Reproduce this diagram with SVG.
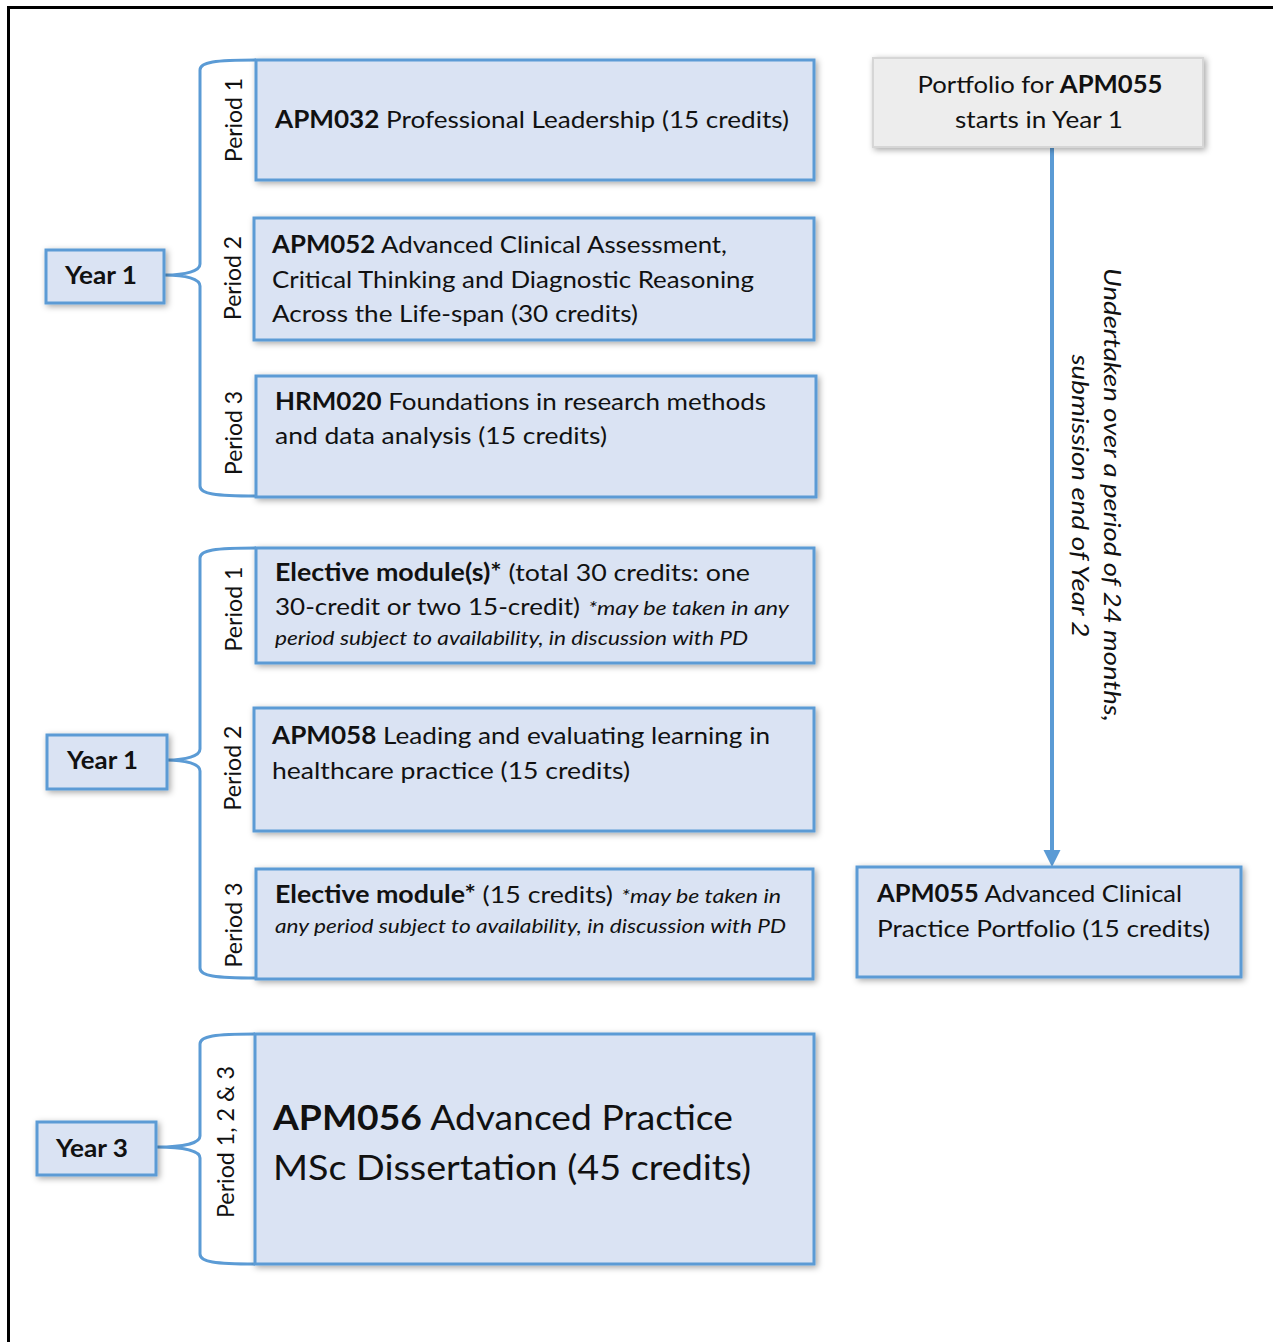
<svg xmlns="http://www.w3.org/2000/svg" width="1273" height="1342" viewBox="0 0 1273 1342">
<defs>
<style>
.box{fill:#dae3f3;stroke:#5b9bd5;stroke-width:3;filter:url(#sh)}
.gbox{fill:#ededed;stroke:#d6d6d6;stroke-width:2;filter:url(#sh)}
.brace{fill:none;stroke:#5b9bd5;stroke-width:3}
text{font-family:Lato,"Open Sans","Liberation Sans",sans-serif;fill:#111}
.t{font-size:24px}
.b{font-weight:bold}
.i{font-style:italic;font-size:20px}
.yr{font-size:25px;font-weight:bold}
.per{font-size:23px}
.big{font-size:35px}
.vt{font-size:23.5px;font-style:italic}
</style>
<filter id="sh" x="-10%" y="-20%" width="120%" height="140%">
<feDropShadow dx="2" dy="2" stdDeviation="3" flood-color="#000" flood-opacity="0.35"/>
</filter>
</defs>
<rect x="0" y="0" width="1273" height="1342" fill="#fff"/>
<path d="M8.5,1342 V7.5 H1273" fill="none" stroke="#000" stroke-width="3"/>

<g id="connectors">
<path class="brace" d="M256,60 C215,60 200,62 200,70 V264 C200,271 186,275 165,275 C186,275 200,279 200,286 V486 C200,494 215,496 256,496"/>
<path class="brace" d="M256,548 C215,548 200,550 200,558 V749 C200,756 186,760 167,760 C186,760 200,764 200,771 V968 C200,976 215,978 256,978"/>
<path class="brace" d="M255,1034 C215,1034 200,1036 200,1044 V1136 C200,1143 184,1147 157,1147 C184,1147 200,1151 200,1158 V1254 C200,1262 215,1264 255,1264"/>
<line x1="1052" y1="148" x2="1052" y2="852" stroke="#5b9bd5" stroke-width="4"/>
<polygon points="1043.5,850 1060.5,850 1052,867" fill="#5b9bd5"/>
</g>

<g id="year1a">
<rect class="box" x="46" y="250" width="118" height="53"/>
<text class="yr" x="65" y="284" textLength="72" lengthAdjust="spacingAndGlyphs">Year 1</text>
</g>
<g id="year1b">
<rect class="box" x="47" y="735" width="120" height="54"/>
<text class="yr" x="67" y="769" textLength="71" lengthAdjust="spacingAndGlyphs">Year 1</text>
</g>
<g id="year3">
<rect class="box" x="37" y="1122" width="119" height="53"/>
<text class="yr" x="56" y="1157" textLength="72" lengthAdjust="spacingAndGlyphs">Year 3</text>
</g>

<g id="periods">
<text class="per" transform="translate(242,120) rotate(-90)" text-anchor="middle" textLength="84" lengthAdjust="spacingAndGlyphs">Period 1</text>
<text class="per" transform="translate(241,278) rotate(-90)" text-anchor="middle" textLength="84" lengthAdjust="spacingAndGlyphs">Period 2</text>
<text class="per" transform="translate(242,433) rotate(-90)" text-anchor="middle" textLength="84" lengthAdjust="spacingAndGlyphs">Period 3</text>
<text class="per" transform="translate(242,609) rotate(-90)" text-anchor="middle" textLength="85" lengthAdjust="spacingAndGlyphs">Period 1</text>
<text class="per" transform="translate(241,768) rotate(-90)" text-anchor="middle" textLength="85" lengthAdjust="spacingAndGlyphs">Period 2</text>
<text class="per" transform="translate(242,925) rotate(-90)" text-anchor="middle" textLength="85" lengthAdjust="spacingAndGlyphs">Period 3</text>
<text class="per" transform="translate(234,1142) rotate(-90)" text-anchor="middle" textLength="152" lengthAdjust="spacingAndGlyphs">Period 1, 2 &amp; 3</text>
</g>

<g id="apm032">
<rect class="box" x="256" y="60" width="558" height="120"/>
<text class="t" x="275" y="128" textLength="514" lengthAdjust="spacingAndGlyphs"><tspan class="b">APM032</tspan> Professional Leadership (15 credits)</text>
</g>
<g id="apm052">
<rect class="box" x="254" y="218" width="560" height="122"/>
<text class="t" x="272" y="253" textLength="455" lengthAdjust="spacingAndGlyphs"><tspan class="b">APM052</tspan> Advanced Clinical Assessment,</text>
<text class="t" x="272" y="288" textLength="482" lengthAdjust="spacingAndGlyphs">Critical Thinking and Diagnostic Reasoning</text>
<text class="t" x="272" y="322" textLength="366" lengthAdjust="spacingAndGlyphs">Across the Life-span (30 credits)</text>
</g>
<g id="hrm020">
<rect class="box" x="256" y="376" width="560" height="121"/>
<text class="t" x="275" y="410" textLength="491" lengthAdjust="spacingAndGlyphs"><tspan class="b">HRM020</tspan> Foundations in research methods</text>
<text class="t" x="275" y="444" textLength="332" lengthAdjust="spacingAndGlyphs">and data analysis (15 credits)</text>
</g>
<g id="elective1">
<rect class="box" x="256" y="548" width="558" height="115"/>
<text class="t" x="275" y="581" textLength="475" lengthAdjust="spacingAndGlyphs"><tspan class="b">Elective module(s)*</tspan> (total 30 credits: one</text>
<text class="t" x="275" y="615" textLength="305" lengthAdjust="spacingAndGlyphs">30-credit or two 15-credit)</text>
<text class="i" x="588" y="615" textLength="201" lengthAdjust="spacingAndGlyphs">*may be taken in any</text>
<text class="i" x="275" y="645" textLength="473" lengthAdjust="spacingAndGlyphs">period subject to availability, in discussion with PD</text>
</g>
<g id="apm058">
<rect class="box" x="254" y="708" width="560" height="123"/>
<text class="t" x="272" y="744" textLength="498" lengthAdjust="spacingAndGlyphs"><tspan class="b">APM058</tspan> Leading and evaluating learning in</text>
<text class="t" x="272" y="779" textLength="358" lengthAdjust="spacingAndGlyphs">healthcare practice (15 credits)</text>
</g>
<g id="elective2">
<rect class="box" x="256" y="869" width="557" height="110"/>
<text class="t" x="275" y="903" textLength="338" lengthAdjust="spacingAndGlyphs"><tspan class="b">Elective module*</tspan> (15 credits)</text>
<text class="i" x="621" y="903" textLength="160" lengthAdjust="spacingAndGlyphs">*may be taken in</text>
<text class="i" x="275" y="933" textLength="511" lengthAdjust="spacingAndGlyphs">any period subject to availability, in discussion with PD</text>
</g>
<g id="apm056">
<rect class="box" x="255" y="1034" width="559" height="230"/>
<text class="big" x="273" y="1130" textLength="460" lengthAdjust="spacingAndGlyphs"><tspan class="b">APM056</tspan> Advanced Practice</text>
<text class="big" x="273" y="1180" textLength="478" lengthAdjust="spacingAndGlyphs">MSc Dissertation (45 credits)</text>
</g>
<g id="portfolio-start">
<rect class="gbox" x="873" y="58" width="330" height="89"/>
<text class="t" x="1040" y="93" text-anchor="middle" textLength="245" lengthAdjust="spacingAndGlyphs">Portfolio for <tspan class="b">APM055</tspan></text>
<text class="t" x="1039" y="128" text-anchor="middle" textLength="168" lengthAdjust="spacingAndGlyphs">starts in Year 1</text>
</g>
<g id="apm055">
<rect class="box" x="857" y="867" width="384" height="110"/>
<text class="t" x="877" y="902" textLength="305" lengthAdjust="spacingAndGlyphs"><tspan class="b">APM055</tspan> Advanced Clinical</text>
<text class="t" x="877" y="937" textLength="333" lengthAdjust="spacingAndGlyphs">Practice Portfolio (15 credits)</text>
</g>
<g id="note">
<text class="vt" transform="translate(1104,495) rotate(90)" text-anchor="middle" textLength="454" lengthAdjust="spacingAndGlyphs">Undertaken over a period of 24 months,</text>
<text class="vt" transform="translate(1072,496) rotate(90)" text-anchor="middle" textLength="283" lengthAdjust="spacingAndGlyphs">submission end of Year 2</text>
</g>
</svg>
